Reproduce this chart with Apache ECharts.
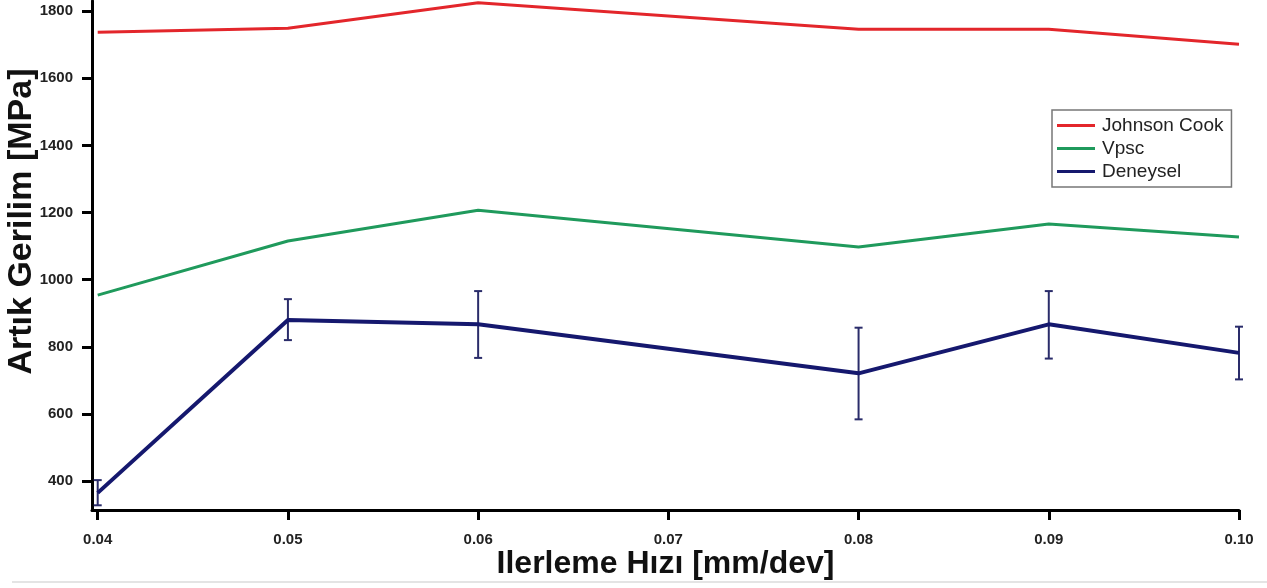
<!DOCTYPE html>
<html>
<head>
<meta charset="utf-8">
<script src="https://cdn.jsdelivr.net/npm/echarts@6/dist/echarts.min.js"></script>
<style>
html, body { margin: 0; padding: 0; background: #fff; }
#chart { width: 1267px; height: 588px; }
</style>
</head>
<body>
<div id="chart"></div>
<script>
// veriler
var feeds = [0.04, 0.05, 0.06, 0.08, 0.09, 0.10];
var johnsonCook = [1737, 1749, 1825, 1746, 1746, 1701];
var vpsc = [954, 1115, 1207, 1097, 1166, 1127];
var deneysel = [365, 880, 867, 721, 867, 782];
var errLow = [328, 820, 767, 584, 765, 703];
var errHigh = [403, 942, 966, 857, 966, 860];
var xTicks = [0.04, 0.05, 0.06, 0.07, 0.08, 0.09, 0.10];
var yTicks = [400, 600, 800, 1000, 1200, 1400, 1600, 1800];

function pairs(ys) {
    return feeds.map(function (x, i) { return [x, ys[i]]; });
}

var chart = echarts.init(document.getElementById('chart'));

var font = '"Liberation Sans", Arial, sans-serif';

var option = {
    backgroundColor: '#fff',
    animation: false,
    grid: { left: 92, right: 28, top: 1, bottom: 78, containLabel: false, outerBoundsMode: 'none' },
    legend: {
        data: ['Johnson Cook', 'Vpsc', 'Deneysel'],
        orient: 'vertical',
        left: 1052,
        top: 110,
        padding: [6, 8, 6, 5],
        itemGap: 4,
        itemWidth: 38,
        itemHeight: 3,
        icon: 'rect',
        borderColor: '#777',
        borderWidth: 1.5,
        textStyle: { fontFamily: font, fontSize: 19, color: '#222', padding: [0, 0, 0, 2] }
    },
    xAxis: {
        type: 'value',
        min: 0.0397,
        max: 0.1,
        name: 'Ilerleme Hızı [mm/dev]',
        nameLocation: 'middle',
        nameGap: 38,
        nameMoveOverlap: false,
        nameTextStyle: { fontFamily: font, fontSize: 32, fontWeight: 'bold', color: '#111' },
        axisLine: { lineStyle: { color: '#000', width: 3 } },
        axisTick: { length: 10, lineStyle: { width: 3, color: '#000' }, customValues: xTicks },
        axisLabel: {
            customValues: xTicks,
            margin: 22,
            fontFamily: font, fontSize: 15, fontWeight: 'bold', color: '#222',
            formatter: function (v) { return v.toFixed(2); }
        },
        splitLine: { show: false }
    },
    yAxis: {
        type: 'value',
        min: 314,
        max: 1830,
        name: 'Artık Gerilim [MPa]',
        nameLocation: 'middle',
        nameGap: 53,
        nameMoveOverlap: false,
        nameTextStyle: {
            fontFamily: font, fontSize: 34, fontWeight: 'bold', color: '#111',
            padding: [0, 0, 0, 68]
        },
        axisLine: { show: true, lineStyle: { color: '#000', width: 3 } },
        axisTick: { show: true, length: 10, lineStyle: { width: 3, color: '#000' }, customValues: yTicks },
        axisLabel: {
            customValues: yTicks,
            margin: 19,
            fontFamily: font, fontSize: 15, fontWeight: 'bold', color: '#222',
            formatter: function (v) { return String(Math.round(v)); }
        },
        splitLine: { show: false }
    },
    graphic: [{
        type: 'line',
        shape: { x1: 12, y1: 582, x2: 1267, y2: 582 },
        style: { stroke: '#e4e4e4', lineWidth: 2 }
    }],
    series: [
        {
            name: 'Johnson Cook',
            type: 'line',
            data: pairs(johnsonCook),
            symbol: 'none',
            color: '#e3262b',
            lineStyle: { width: 3, color: '#e3262b' }
        },
        {
            name: 'Vpsc',
            type: 'line',
            data: pairs(vpsc),
            symbol: 'none',
            color: '#1f9a5c',
            lineStyle: { width: 3, color: '#1f9a5c' }
        },
        {
            name: 'Deneysel',
            type: 'line',
            data: pairs(deneysel),
            symbol: 'none',
            color: '#15186e',
            lineStyle: { width: 4, color: '#15186e' }
        },
        {
            name: 'hata',
            type: 'custom',
            data: feeds.map(function (x, i) { return [x, errLow[i], errHigh[i]]; }),
            renderItem: function (params, api) {
                var lo = api.coord([api.value(0), api.value(1)]);
                var hi = api.coord([api.value(0), api.value(2)]);
                var w = 4;
                var st = { stroke: '#2a2c6a', lineWidth: 2 };
                return {
                    type: 'group',
                    children: [
                        { type: 'line', shape: { x1: lo[0], y1: lo[1], x2: hi[0], y2: hi[1] }, style: st },
                        { type: 'line', shape: { x1: lo[0] - w, y1: lo[1], x2: lo[0] + w, y2: lo[1] }, style: st },
                        { type: 'line', shape: { x1: hi[0] - w, y1: hi[1], x2: hi[0] + w, y2: hi[1] }, style: st }
                    ]
                };
            },
            z: 3
        }
    ]
};

chart.setOption(option);
</script>
</body>
</html>
